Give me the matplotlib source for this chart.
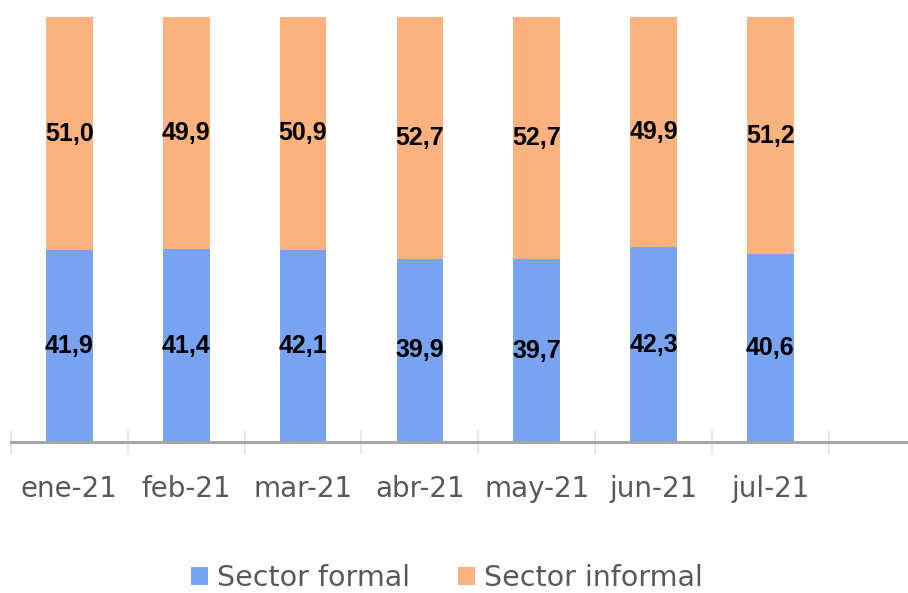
import numpy as np
import matplotlib.pyplot as plt

meses = ["ene-21", "feb-21", "mar-21", "abr-21", "may-21", "jun-21", "jul-21"]
formal = [41.9, 41.4, 42.1, 39.9, 39.7, 42.3, 40.6]
informal = [51.0, 49.9, 50.9, 52.7, 52.7, 49.9, 51.2]

azul = "#78a2f2"
naranja = "#fbb27e"
gris = "#595959"

fig = plt.figure(figsize=(9.08, 5.93), dpi=100)
ax = fig.add_axes([11 / 908, 1 - 442 / 593, 1 - 11 / 908, (442 - 17) / 593])

x = np.arange(len(meses))
total = np.array(formal) + np.array(informal)
f_pct = np.array(formal) / total * 100
i_pct = np.array(informal) / total * 100

ax.bar(x, f_pct, width=0.40, color=azul, label="Sector formal")
ax.bar(x, i_pct, width=0.40, bottom=f_pct, color=naranja, label="Sector informal")

fuente = ["Liberation Sans", "DejaVu Sans"]
for xi, fv, iv, fp, ip in zip(x, formal, informal, f_pct, i_pct):
    ax.text(xi, fp / 2, f"{fv:.1f}".replace(".", ","), ha="center", va="center",
            fontsize=18, fontweight="bold", family=fuente, color="black")
    ax.text(xi, fp + ip / 2, f"{iv:.1f}".replace(".", ","), ha="center", va="center",
            fontsize=18, fontweight="bold", family=fuente, color="black")

ax.set_xlim(-0.5, (908 - 12) / 116.7 - 0.5)
ax.set_ylim(0, 100)
ax.set_yticks([])
for s in ["top", "right", "left"]:
    ax.spines[s].set_visible(False)
ax.spines["bottom"].set_color("#a6a6a6")
ax.spines["bottom"].set_linewidth(2.2)

ax.set_xticks(x)
ax.set_xticklabels(meses, fontsize=20, color=gris)
ax.tick_params(axis="x", which="major", length=0, pad=24)
ax.set_xticks(np.arange(len(meses) + 1) - 0.5, minor=True)
ax.tick_params(axis="x", which="minor", direction="inout", length=17, width=1.5,
               color="#e8e8e8")

fig.legend(loc="center", bbox_to_anchor=(0.492, 0.025), ncol=2, frameon=False,
           fontsize=20.5, labelcolor=gris, handlelength=0.6, handleheight=0.6,
           handletextpad=0.3, columnspacing=1.7)

fig.savefig("out.png", dpi=100)
